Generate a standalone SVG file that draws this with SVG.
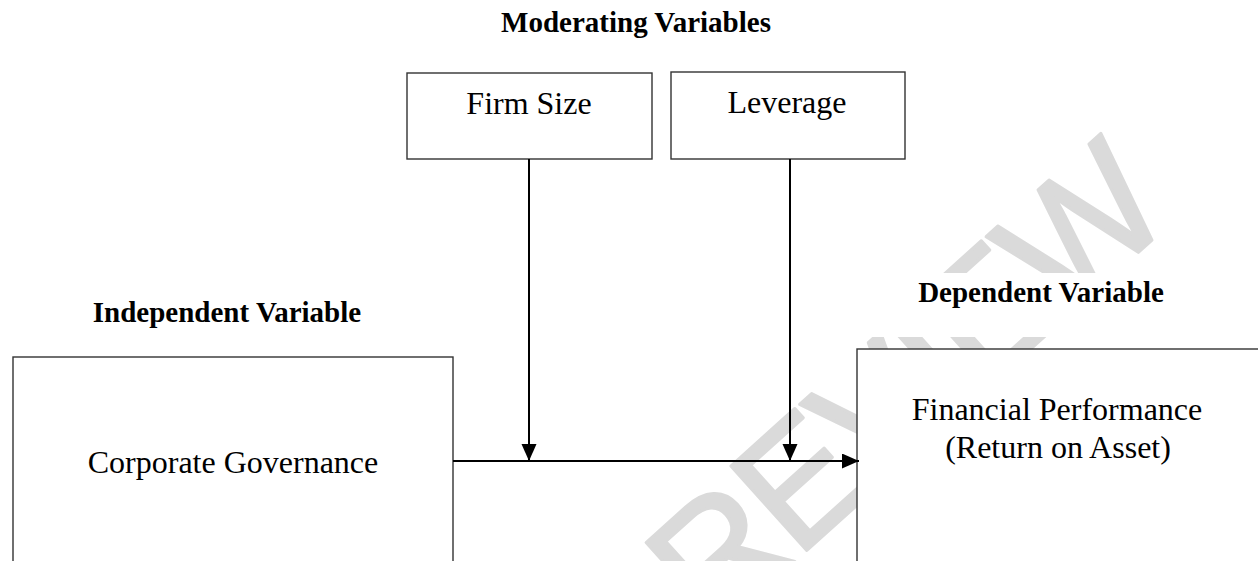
<svg xmlns="http://www.w3.org/2000/svg" width="1258" height="561" viewBox="0 0 1258 561">
  <defs>
    <style>
      .box { fill: #ffffff; stroke: #333333; stroke-width: 1.4; }
      .lbl { font-family: "Liberation Serif", "Times New Roman", serif; font-size: 32px; fill: #000000; text-anchor: middle; }
      .hdr { font-family: "Liberation Serif", "Times New Roman", serif; font-size: 29px; font-weight: bold; fill: #000000; text-anchor: middle; }
      .conn { stroke: #000000; stroke-width: 2; fill: none; }
      .wm { font-family: "Liberation Sans Narrow", "Liberation Sans", Arial, sans-serif; font-size: 165px; letter-spacing: -5px; fill: #dadada; stroke: #dadada; stroke-width: 3; stroke-linejoin: round; }
    </style>
    <marker id="arrow" markerUnits="userSpaceOnUse" markerWidth="18" markerHeight="16" refX="17" refY="7.5" orient="auto">
      <path d="M0,0 L17,7.5 L0,15 Z" fill="#000000"/>
    </marker>
  </defs>
  <rect x="0" y="0" width="1258" height="561" fill="#ffffff"/>

  <g id="watermark">
    <text class="wm" transform="translate(712,636) rotate(-42)">REVIEW</text>
  </g>

  <g id="title-moderating">
    <text class="hdr" x="636" y="32">Moderating Variables</text>
  </g>

  <g id="node-firm-size">
    <rect class="box" x="407" y="73" width="245" height="86"/>
    <text class="lbl" x="529" y="114">Firm Size</text>
  </g>

  <g id="node-leverage">
    <rect class="box" x="671" y="72" width="234" height="87"/>
    <text class="lbl" x="787" y="113">Leverage</text>
  </g>

  <g id="title-independent">
    <text class="hdr" x="227" y="322">Independent Variable</text>
  </g>

  <g id="title-dependent">
    <rect x="840" y="273" width="418" height="64" fill="#ffffff"/>
    <text class="hdr" x="1041" y="302">Dependent Variable</text>
  </g>

  <g id="node-corporate-governance">
    <rect class="box" x="13" y="357" width="440" height="220"/>
    <text class="lbl" x="233" y="473">Corporate Governance</text>
  </g>

  <g id="node-financial-performance">
    <rect class="box" x="857" y="349" width="420" height="230"/>
    <text class="lbl" x="1057" y="420">Financial Performance</text>
    <text class="lbl" x="1058" y="458">(Return on Asset)</text>
  </g>

  <g id="connectors">
    <line class="conn" x1="453" y1="461" x2="859" y2="461" marker-end="url(#arrow)"/>
    <line class="conn" x1="529" y1="159" x2="529" y2="461" marker-end="url(#arrow)"/>
    <line class="conn" x1="790" y1="159" x2="790" y2="461" marker-end="url(#arrow)"/>
  </g>
</svg>
